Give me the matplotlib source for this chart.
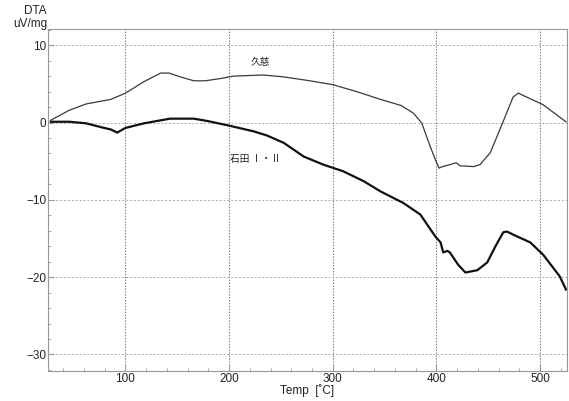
import matplotlib.pyplot as plt
from matplotlib.ticker import MultipleLocator

plt.rcParams['font.family'] = ['Liberation Sans', 'Noto Sans CJK JP', 'DejaVu Sans']

# 久慈 (thin line)
kuji_x = [28, 46, 62, 86, 100, 118, 134, 142, 153, 166, 177, 192, 204, 233, 253,
          278, 300, 323, 346, 366, 378, 386, 394, 399, 402.5, 406, 413, 419, 423,
          436, 442, 452, 464, 474, 479, 503, 525]
kuji_y = [0.3, 1.6, 2.4, 3.0, 3.8, 5.3, 6.4, 6.4, 5.9, 5.4, 5.4, 5.7, 6.0, 6.15, 5.9,
          5.4, 4.9, 4.0, 3.0, 2.2, 1.2, -0.1, -3.1, -4.8, -5.9, -5.7, -5.45, -5.2, -5.6,
          -5.7, -5.45, -3.9, 0.0, 3.3, 3.8, 2.3, 0.1]

# 石田 I・II (thick line)
ishida_x = [28, 46, 62, 78, 86, 92, 100, 118, 143, 166, 179, 200, 224, 237, 253,
            272, 291, 310, 330, 346, 368, 384.5, 399, 404, 406.6, 410.5, 413, 421,
            428, 439.5, 449, 457, 464.5, 468, 478, 490.5, 503, 519, 525]
ishida_y = [0.1, 0.1, -0.1, -0.65, -0.9, -1.3, -0.7, -0.1, 0.5, 0.5, 0.2, -0.4, -1.15,
            -1.7, -2.65, -4.4, -5.45, -6.3, -7.6, -8.9, -10.4, -11.9, -14.75, -15.5,
            -16.8, -16.6, -16.8, -18.4, -19.4, -19.1, -18.1, -16.0, -14.2, -14.1,
            -14.75, -15.5, -17.1, -19.9, -21.6]

fig = plt.figure(figsize=(5.69, 4.01), dpi=100)
ax = fig.add_axes([0.0838, 0.0756, 0.9127, 0.8521])

ax.plot(kuji_x, kuji_y, color='#3a3a3a', linewidth=0.9)
ax.plot(ishida_x, ishida_y, color='#111111', linewidth=1.6)

ax.set_xlim(25, 526)
ax.set_ylim(-32.1, 12.1)
ax.xaxis.set_major_locator(MultipleLocator(100))
ax.xaxis.set_minor_locator(MultipleLocator(20))
ax.yaxis.set_major_locator(MultipleLocator(10))
ax.yaxis.set_minor_locator(MultipleLocator(2))
ax.tick_params(which='both', direction='in', colors='#999999', labelcolor='#222222',
               labelsize=8.5)
ax.tick_params(which='major', length=4)
ax.tick_params(which='minor', length=2)
ax.tick_params(axis='x', pad=2)
ax.tick_params(axis='y', pad=1)
for s in ax.spines.values():
    s.set_color('#999999')

ax.grid(True, axis='x', linestyle=(0, (1.5, 1.5)), color='#777777', linewidth=0.7)
ax.grid(True, axis='y', linestyle=(0, (2, 2)), color='#aaaaaa', linewidth=0.7)

ax.text(230, 7.8, '久慈', fontsize=7, ha='center', va='center',
        family=['Noto Sans CJK JP', 'DejaVu Sans'], color='#222222')
ax.text(201, -4.7, '石田 Ⅰ・Ⅱ', fontsize=7, ha='left', va='center',
        family=['Noto Sans CJK JP', 'DejaVu Sans'], color='#222222')

fig.text(35.5 / 569, 1 - 11.5 / 401, 'DTA', fontsize=8.5, ha='center', va='center',
         color='#222222')
fig.text(30 / 569, 1 - 24 / 401, 'uV/mg', fontsize=8.5, ha='center', va='center',
         color='#222222')
fig.text(307 / 569, 1 - 391 / 401, 'Temp  [˚C]', fontsize=8.5, ha='center',
         va='center', color='#222222')

fig.savefig('out.png', dpi=100)
